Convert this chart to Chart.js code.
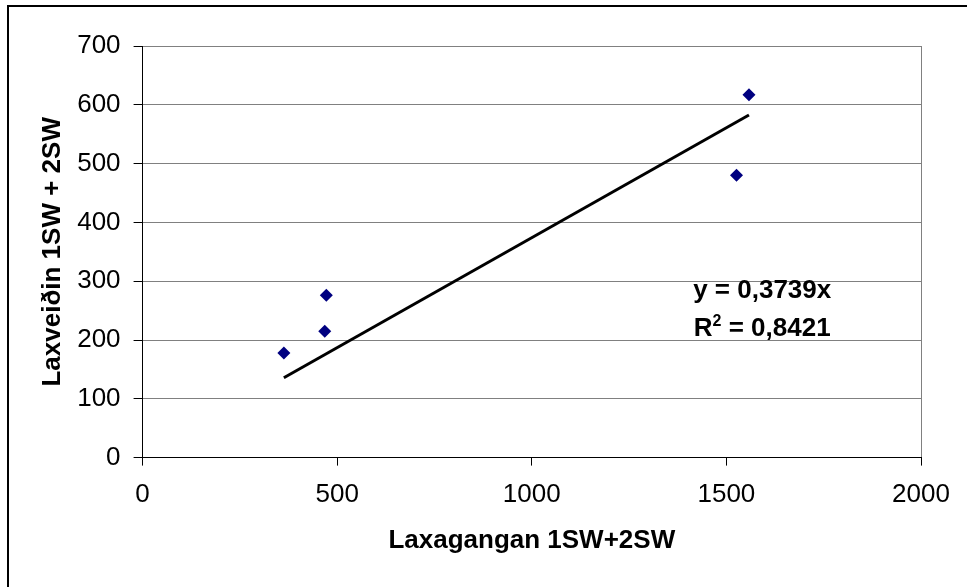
<!DOCTYPE html>
<html>
<head>
<meta charset="utf-8">
<script src="https://cdn.jsdelivr.net/npm/chart.js@4"></script>
<style>
  html, body { margin: 0; padding: 0; background: #fff; overflow: hidden; }
  #frame {
    position: absolute; left: 7px; top: 5px;
    width: 1000px; height: 1000px;
    border: 2px solid #000;
  }
  #wrap { position: absolute; left: 0; top: 0; width: 967px; height: 587px; }
</style>
</head>
<body>
<div id="frame"></div>
<div id="wrap"><canvas id="chart" width="967" height="587"></canvas></div>
<script>
// Laxagangan (run) vs Laxveiðin (catch), 1SW + 2SW
const runCounts = [363, 468, 472, 1526, 1558];
const catchCounts = [178, 215, 276, 480, 617];

// Linear trend through origin, as given on the chart
const trendSlope = 0.3739;
const trendR2 = "0,8421";
const trendLabel = "y = 0,3739x";

const xTitle = "Laxagangan 1SW+2SW";
const yTitle = "Laxveiðin 1SW + 2SW";

const FONT = "'Liberation Sans', Arial, sans-serif";

const points = runCounts.map((x, i) => ({ x: x, y: catchCounts[i] }));
const xMin = Math.min(...runCounts);
const xMax = Math.max(...runCounts);
const trendPoints = [
  { x: xMin, y: trendSlope * xMin },
  { x: xMax, y: trendSlope * xMax },
];

// draws the trend equation and R² text inside the plot
const trendTextPlugin = {
  id: "trendText",
  afterDatasetsDraw(chart) {
    const { ctx, scales } = chart;
    const cx = scales.x.getPixelForValue(1592);
    const y1 = scales.y.getPixelForValue(272);
    const y2 = scales.y.getPixelForValue(207);
    ctx.save();
    ctx.fillStyle = "#000";
    ctx.font = "bold 26px " + FONT;
    ctx.textBaseline = "alphabetic";
    ctx.textAlign = "left";
    let w = ctx.measureText(trendLabel).width;
    ctx.fillText(trendLabel, cx - w / 2, y1);

    const rest = " = " + trendR2;
    const wR = ctx.measureText("R").width;
    const wRest = ctx.measureText(rest).width;
    ctx.font = "bold 16px " + FONT;
    const wSup = ctx.measureText("2").width;
    const total = wR + wSup + wRest;
    let x = cx - total / 2;
    ctx.font = "bold 26px " + FONT;
    ctx.fillText("R", x, y2);
    x += wR;
    ctx.font = "bold 16px " + FONT;
    ctx.fillText("2", x, y2 - 10);
    x += wSup;
    ctx.font = "bold 26px " + FONT;
    ctx.fillText(rest, x, y2);
    ctx.restore();
  },
};

const ctx = document.getElementById("chart").getContext("2d");
new Chart(ctx, {
  type: "scatter",
  data: {
    datasets: [
      {
        label: "Laxveiði",
        data: points,
        pointStyle: "rectRot",
        pointRadius: 6.5,
        pointHoverRadius: 6.5,
        backgroundColor: "#000080",
        borderColor: "#000080",
        borderWidth: 0,
        order: 1,
      },
      {
        label: "Trend",
        type: "line",
        data: trendPoints,
        borderColor: "#000",
        borderWidth: 3,
        pointRadius: 0,
        fill: false,
        order: 2,
      },
    ],
  },
  options: {
    responsive: false,
    animation: false,
    events: [],
    layout: { padding: { left: 37, right: 46, top: 46, bottom: 31 } },
    plugins: {
      legend: { display: false },
      tooltip: { enabled: false },
    },
    scales: {
      x: {
        type: "linear",
        min: 0,
        max: 2000,
        ticks: {
          stepSize: 500,
          color: "#000",
          padding: 14,
          font: { family: FONT, size: 26 },
          callback: (v) => String(v),
        },
        grid: {
          color: (c) => (c.tick && c.tick.value === 2000 ? "#808080" : "transparent"),
          tickColor: "#000",
          tickLength: 8,
        },
        border: { color: "#000", width: 1 },
        title: {
          display: true,
          text: xTitle,
          color: "#000",
          font: { family: FONT, size: 26, weight: "bold" },
          padding: { top: 0, bottom: 0 },
        },
      },
      y: {
        min: 0,
        max: 700,
        ticks: {
          stepSize: 100,
          color: "#000",
          padding: 13,
          font: { family: FONT, size: 26 },
          callback: (v) => String(v),
        },
        grid: {
          color: "#808080",
          tickColor: "#000",
          tickLength: 9,
        },
        border: { color: "#000", width: 1 },
        title: {
          display: true,
          text: yTitle,
          color: "#000",
          font: { family: FONT, size: 26, weight: "bold" },
          padding: { top: 0, bottom: -4 },
        },
      },
    },
  },
  plugins: [trendTextPlugin],
});
</script>
</body>
</html>
